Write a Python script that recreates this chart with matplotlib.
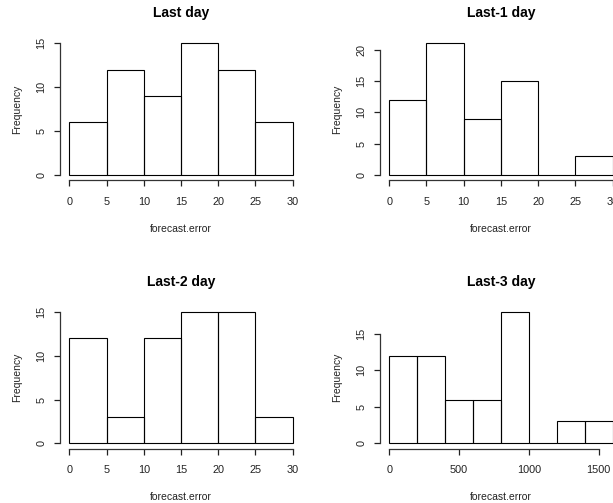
import matplotlib
matplotlib.use("Agg")
import matplotlib.pyplot as plt

plt.rcParams["font.family"] = ["Liberation Sans", "DejaVu Sans"]

# histogram data
titles = ["Last day", "Last-1 day", "Last-2 day", "Last-3 day"]
edges_last = [0, 5, 10, 15, 20, 25, 30]
counts_last = [6, 12, 9, 15, 12, 6]
edges_last1 = [0, 5, 10, 15, 20, 25, 30]
counts_last1 = [12, 21, 9, 15, 0, 3]
edges_last2 = [0, 5, 10, 15, 20, 25, 30]
counts_last2 = [12, 3, 12, 15, 15, 3]
edges_last3 = [0, 200, 400, 600, 800, 1000, 1200, 1400, 1600]
counts_last3 = [12, 12, 6, 6, 18, 0, 3, 3]

xticks_small = [0, 5, 10, 15, 20, 25, 30]
xticks_big = [0, 500, 1000, 1500]
yticks_15 = [0, 5, 10, 15]
yticks_20 = [0, 5, 10, 15, 20]

W, H = 613, 503
fig = plt.figure(figsize=(W / 100, H / 100), dpi=100)

panels = [
    (60.4, 38.0, edges_last, counts_last, xticks_small, yticks_15),
    (380.3, 38.0, edges_last1, counts_last1, xticks_small, yticks_20),
    (60.4, 306.4, edges_last2, counts_last2, xticks_small, yticks_15),
    (380.3, 306.4, edges_last3, counts_last3, xticks_big, yticks_15),
]
pw, ph = 241.2, 142.3

for (left, top, edges, counts, xt, yt), title in zip(panels, titles):
    ax = fig.add_axes([left / W, (H - top - ph) / H, pw / W, ph / H])
    widths = [b - a for a, b in zip(edges[:-1], edges[1:])]
    ax.bar(edges[:-1], counts, width=widths, align="edge",
           fill=False, edgecolor="black", linewidth=0.8)
    xr = edges[-1] - edges[0]
    yr = max(counts)
    ax.set_xlim(edges[0] - 0.04 * xr, edges[-1] + 0.04 * xr)
    ax.set_ylim(-0.04 * yr, yr * 1.04)
    for s in ["top", "right"]:
        ax.spines[s].set_visible(False)
    ax.spines["left"].set_bounds(yt[0], yt[-1])
    ax.spines["bottom"].set_bounds(xt[0], xt[-1])
    for s in ["left", "bottom"]:
        ax.spines[s].set_linewidth(0.9)
        ax.spines[s].set_color("#333333")
    ax.set_xticks(xt)
    ax.set_yticks(yt)
    ax.set_yticklabels([str(v) for v in yt], rotation=90, va="center")
    ax.tick_params(length=4, width=0.9, labelsize=7.8, colors="#222222")
    ax.tick_params(axis="x", pad=8)
    ax.tick_params(axis="y", pad=6)
    ax.set_xlabel("forecast.error", fontsize=7.5, labelpad=12, color="#222222")
    ax.set_ylabel("Frequency", fontsize=7.5, labelpad=10, color="#222222")
    ax.set_title(title, fontsize=10, fontweight="bold", pad=15)

fig.savefig("out.png", dpi=100)
